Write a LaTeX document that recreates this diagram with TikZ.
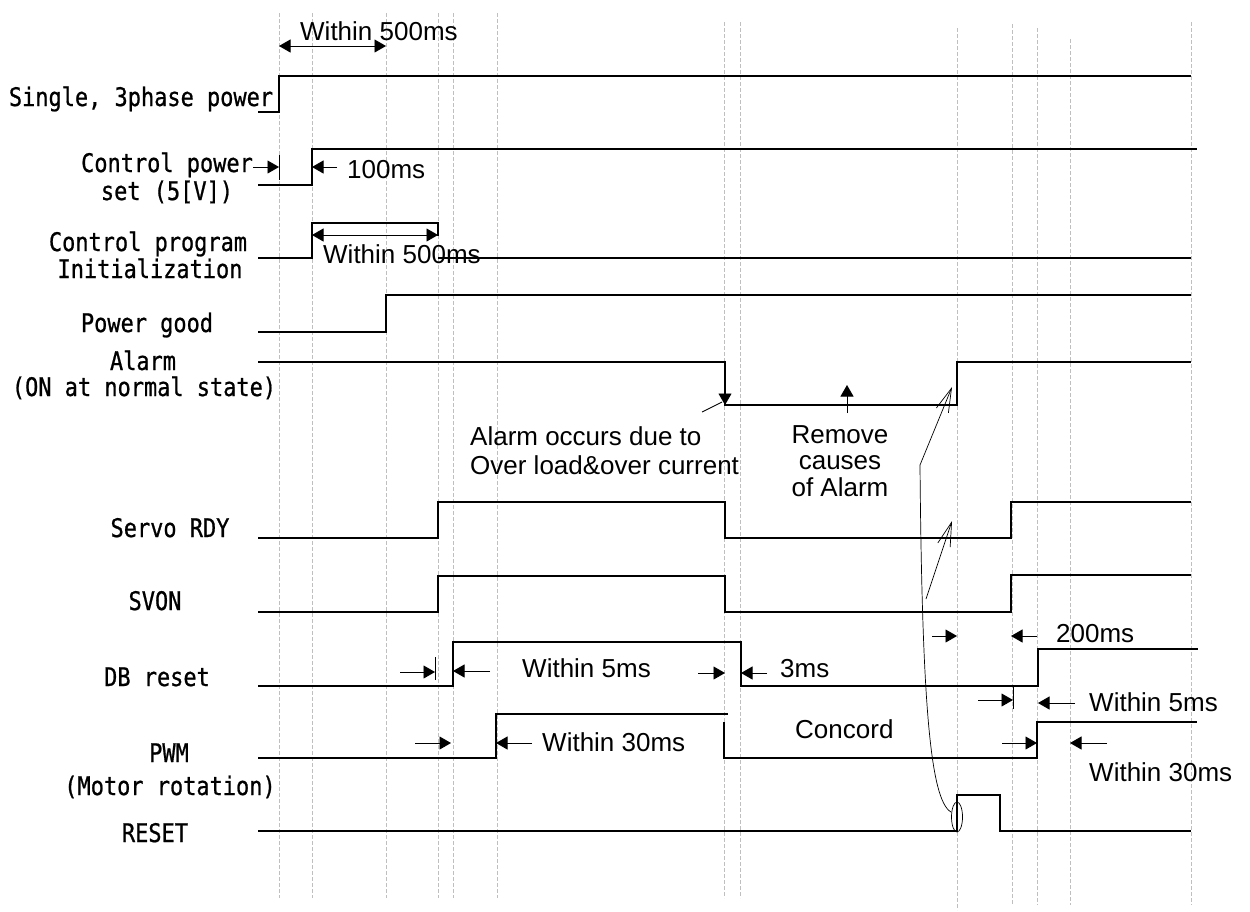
\documentclass[tikz,border=0pt]{standalone}
\usepackage{fontspec}
\setmainfont{Liberation Sans}
\newfontfamily\lblfont[FakeStretch=0.857,FakeBold=0.8]{DejaVu Sans Mono}
\usetikzlibrary{arrows.meta}
\begin{document}
\begin{tikzpicture}[x=1pt,y=-1pt,
 sig/.style={line width=1.1pt, line join=miter},
 gridln/.style={gray!50, line width=0.6pt, dash pattern=on 4pt off 2pt},
 lbl/.style={font=\lblfont\fontsize{25.6}{30}\selectfont, inner sep=0pt, anchor=base},
 ann/.style={font=\fontsize{26}{30}\selectfont, inner sep=0pt, anchor=base west},
 thin/.style={line width=0.9pt},
 dim/.style={line width=0.9pt, -{Triangle[length=11.5pt,width=13pt]}},
 ddim/.style={line width=0.9pt, {Triangle[length=11.5pt,width=13pt]}-{Triangle[length=11.5pt,width=13pt]}},
 barb/.style={line width=0.7pt, -{Straight Barb[length=24pt,width=13pt]}}
]
\useasboundingbox (0,0) rectangle (1250,911);
% grid lines
\foreach \x/\t/\b in {279/13/898, 312/13/898, 386/13/898, 438/13/898, 453/13/898, 497/13/898, 724/22/898, 740/22/898, 957/28/910, 1012/24/905, 1037/28/905, 1070/39/905, 1191/22/905}
  \draw[gridln] (\x,\t) -- (\x,\b);
% signals
\draw[sig] (258,112) -- (279,112) -- (279,76) -- (1191,76);
\draw[sig] (258,185) -- (312,185) -- (312,149) -- (1197,149);
\draw[sig] (258,258) -- (312,258) -- (312,223) -- (438,223) -- (438,236);
\draw[sig] (438,258) -- (1191,258);
\draw[sig] (258,332) -- (386,332) -- (386,295) -- (1191,295);
\draw[sig] (258,362) -- (725,362) -- (725,405) -- (957,405) -- (957,362) -- (1191,362);
\draw[sig] (258,538) -- (438,538) -- (438,502) -- (725,502) -- (725,538) -- (1011,538) -- (1011,502) -- (1191,502);
\draw[sig] (258,612) -- (438,612) -- (438,576) -- (725,576) -- (725,612) -- (1011,612) -- (1011,575) -- (1191,575);
\draw[sig] (258,686) -- (453,686) -- (453,642) -- (741,642) -- (741,686) -- (1038,686) -- (1038,649) -- (1198,649);
\draw[sig] (258,758) -- (496,758) -- (496,714) -- (728,714);
\draw[sig] (724,722) -- (724,758) -- (1037,758) -- (1037,722) -- (1197,722);
\draw[sig] (258,831) -- (957,831) -- (957,795) -- (1000,795) -- (1000,831) -- (1191,831);
% dimension arrows
\draw[ddim] (279,46) -- (386,46);
\draw[thin] (279,155) -- (279,180);
\draw[dim] (253,167) -- (279,167);
\draw[dim] (337,167) -- (312,167);
\draw[ddim] (312,235) -- (438,235);
\draw[dim] (725,385) -- (725,405);
\draw[thin] (702,412) -- (722,402);
\draw[dim] (847,413) -- (847,385);
\draw[thin] (435,657) -- (435,680);
\draw[dim] (400,672) -- (435,672);
\draw[dim] (490,671) -- (453,671);
\draw[dim] (698,673) -- (725,673);
\draw[dim] (767,673) -- (741,673);
\draw[dim] (932,636) -- (957,636);
\draw[dim] (1037,636) -- (1011,636);
\draw[thin] (1013,685) -- (1013,709);
\draw[dim] (978,700) -- (1013,700);
\draw[dim] (1075,703) -- (1038,703);
\draw[dim] (415,743) -- (451,743);
\draw[dim] (532,743) -- (496,743);
\draw[dim] (1002,743) -- (1037,743);
\draw[dim] (1107,743) -- (1070,743);
% reset link
\draw[line width=0.7pt] (957,817) ellipse [x radius=5.5pt, y radius=15pt];
\draw[line width=0.7pt] (951,812) .. controls (930,800) and (922,700) .. (920,465);
\draw[barb] (920,465) -- (952,387);
\draw[barb] (926,599) -- (952,521);
% labels
\node[lbl] (l1) at (141,106) {Single, 3phase power};
\node[lbl] (l2a) at (167,172) {Control power};
\node[lbl] (l2b) at (167,200) {set (5[V])};
\node[lbl] (l3a) at (148,251) {Control program};
\node[lbl] (l3b) at (150,278) {Initialization};
\node[lbl] (l4) at (147,332) {Power good};
\node[lbl] (l5a) at (143,370) {Alarm};
\node[lbl] (l5b) at (144,396) {(ON at normal state)};
\node[lbl] (l6) at (170,537) {Servo RDY};
\node[lbl] (l7) at (155,610) {SVON};
\node[lbl] (l8) at (157,686) {DB reset};
\node[lbl] (l9a) at (169,762) {PWM};
\node[lbl] (l9b) at (170,795) {(Motor rotation)};
\node[lbl] (l10) at (155,842) {RESET};
% annotations
\node[ann] (a1) at (300,40) {Within 500ms};
\node[ann] (a2) at (347,178) {100ms};
\node[ann] (a3) at (323,263) {Within 500ms};
\node[ann] (a4) at (470,445) {Alarm occurs due to};
\node[ann] (a5) at (470,474) {Over load\&over current};
\node[ann,anchor=base] (a6) at (840,443) {Remove};
\node[ann,anchor=base] (a7) at (840,469) {causes};
\node[ann,anchor=base] (a8) at (840,496) {of Alarm};
\node[ann] (a9) at (522,677) {Within 5ms};
\node[ann] (a10) at (780,677) {3ms};
\node[ann] (a11) at (542,751) {Within 30ms};
\node[ann] (a12) at (795,738) {Concord};
\node[ann] (a13) at (1056,642) {200ms};
\node[ann] (a14) at (1089,711) {Within 5ms};
\node[ann] (a15) at (1089,781) {Within 30ms};
\end{tikzpicture}
\end{document}
